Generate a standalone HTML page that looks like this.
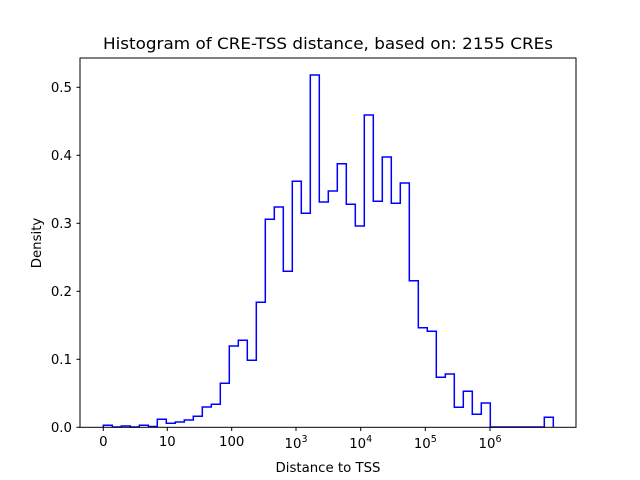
<!DOCTYPE html>
<html><head><meta charset="utf-8"><style>html,body{margin:0;padding:0;background:#fff}svg{display:block}</style></head>
<body>
<svg width="640" height="480" viewBox="0 0 640 480" xmlns="http://www.w3.org/2000/svg" font-family="'DejaVu Sans','Liberation Sans',sans-serif" fill="#000">
<rect width="640" height="480" fill="#fff"/>
<path fill="none" stroke="#0000ff" stroke-width="1.5" stroke-linejoin="miter" d="M103.3,427 V425.3 H112.3 V427 H121.3 V426 H130.3 V427 H139.3 V425.3 H148.3 V426.5 H157.3 V419.3 H166.3 V423.3 H175.3 V422 H184.3 V420 H193.3 V416.3 H202.3 V407 H211.3 V404.3 H220.3 V383.3 H229.3 V346 H238.3 V340.3 H247.3 V360.3 H256.3 V302.3 H265.3 V219.3 H274.3 V207 H283.3 V271.3 H292.3 V181.3 H301.3 V213.3 H310.3 V75 H319.3 V202 H328.3 V191 H337.3 V163.7 H346.3 V204.3 H355.3 V226 H364.3 V115 H373.3 V201.3 H382.3 V157 H391.3 V203.3 H400.3 V183 H409.3 V280.7 H418.3 V327.7 H427.3 V331.3 H436.3 V377.3 H445.3 V374 H454.3 V407.3 H463.3 V391.3 H472.3 V414.3 H481.3 V403 H490.3 V427 H544.3 V417.3 H553.3 V427"/>
<rect x="80" y="58" width="496" height="369.3" fill="none" stroke="#000" stroke-width="1"/>
<g stroke="#000" stroke-width="1">
<line x1="76.5" x2="80" y1="427.3" y2="427.3"/><line x1="76.5" x2="80" y1="359.3" y2="359.3"/><line x1="76.5" x2="80" y1="291.3" y2="291.3"/><line x1="76.5" x2="80" y1="223.3" y2="223.3"/><line x1="76.5" x2="80" y1="155.3" y2="155.3"/><line x1="76.5" x2="80" y1="87.3" y2="87.3"/>
<line x1="103.3" x2="103.3" y1="427.3" y2="431"/><line x1="167.3" x2="167.3" y1="427.3" y2="431"/><line x1="231.7" x2="231.7" y1="427.3" y2="431"/><line x1="296" x2="296" y1="427.3" y2="431"/><line x1="360.7" x2="360.7" y1="427.3" y2="431"/><line x1="425.3" x2="425.3" y1="427.3" y2="431"/><line x1="490" x2="490" y1="427.3" y2="431"/>
</g>
<g font-size="13.3" text-anchor="end">
<text x="72" y="432">0.0</text><text x="72" y="364">0.1</text><text x="72" y="296">0.2</text><text x="72" y="228">0.3</text><text x="72" y="160">0.4</text><text x="72" y="92">0.5</text>
</g>
<g font-size="13.3" text-anchor="middle">
<text x="103.3" y="446">0</text><text x="167.3" y="446">10</text><text x="231.7" y="446">100</text>
<text x="296" y="448">10<tspan font-size="9.5" dy="-6">3</tspan></text>
<text x="360.7" y="448">10<tspan font-size="9.5" dy="-6">4</tspan></text>
<text x="425.3" y="448">10<tspan font-size="9.5" dy="-6">5</tspan></text>
<text x="490" y="448">10<tspan font-size="9.5" dy="-6">6</tspan></text>
<text x="328" y="472">Distance to TSS</text>
<text x="328" y="49" font-size="16" textLength="450" lengthAdjust="spacingAndGlyphs">Histogram of CRE-TSS distance, based on: 2155 CREs</text>
<text transform="translate(41,243) rotate(-90)">Density</text>
</g>
</svg>
</body></html>
